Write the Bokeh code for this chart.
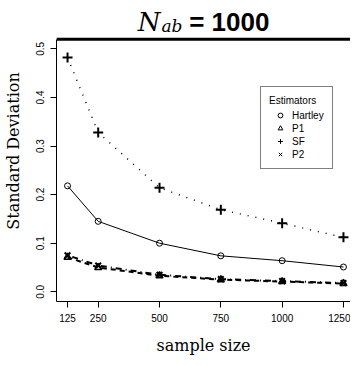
from bokeh.plotting import figure
from bokeh.models import (Range1d, FixedTicker, Legend, LegendItem, Label)
from bokeh.embed import file_html
from bokeh.resources import INLINE

# ---- data ----
sample_size = [125, 250, 500, 750, 1000, 1250]
hartley = [0.218, 0.145, 0.100, 0.074, 0.064, 0.051]
p1 = [0.071, 0.050, 0.033, 0.025, 0.021, 0.017]
sf = [0.482, 0.328, 0.214, 0.169, 0.141, 0.112]
p2 = [0.075, 0.054, 0.035, 0.026, 0.022, 0.018]
x_ticks = [125, 250, 500, 750, 1000, 1250]
y_ticks = [0.0, 0.1, 0.2, 0.3, 0.4, 0.5]
y_tick_labels = ["0.0", "0.1", "0.2", "0.3", "0.4", "0.5"]

W, H = 350, 357
BL, BB = 53, 53
FW = W - BL          # frame width (px)
FH = H - BB          # frame height (px), frame reaches the top of the canvas
PX_PER_Y = 490.7     # vertical scale (px per unit)
X0, X1 = 80.0, 1278.7
Y0, YBOX = -0.02, 0.52          # plotting box (bottom, top)
Y1 = Y0 + FH / PX_PER_Y         # frame top (room for the title)
NAN = float("nan")

p = figure(width=W, height=H, output_backend="svg", toolbar_location=None,
           x_range=Range1d(X0, X1), y_range=Range1d(Y0, Y1),
           min_border_left=BL, min_border_right=0, min_border_top=0,
           min_border_bottom=BB)
p.outline_line_color = None
p.xgrid.visible = False
p.ygrid.visible = False
p.background_fill_color = "white"
p.border_fill_color = "white"

for ax in (p.xaxis[0], p.yaxis[0]):
    ax.axis_line_color = "black"
    ax.axis_line_width = 1
    ax.major_tick_line_color = "black"
    ax.major_tick_in = 0
    ax.major_tick_out = 6
    ax.minor_tick_line_color = None
    ax.major_label_text_font = "Liberation Sans"
    ax.major_label_text_font_size = "10px"
    ax.major_label_text_color = "black"
    ax.axis_label_text_font = "DejaVu Serif"
    ax.axis_label_text_font_size = "16px"
    ax.axis_label_text_font_style = "normal"
    ax.axis_label_text_color = "black"

p.xaxis[0].ticker = FixedTicker(ticks=x_ticks)
p.xaxis[0].major_label_standoff = 6
p.xaxis[0].axis_label = "sample size"
p.xaxis[0].axis_label_standoff = 11

p.yaxis[0].ticker = FixedTicker(ticks=y_ticks)
p.yaxis[0].bounds = (Y0, YBOX)
p.yaxis[0].major_label_overrides = {t: l for t, l in zip(y_ticks, y_tick_labels)}
p.yaxis[0].major_label_orientation = "vertical"
p.yaxis[0].major_label_standoff = 6
p.yaxis[0].axis_label = "Standard Deviation"
p.yaxis[0].axis_label_standoff = 11

# top edge of the plotting box
p.segment(x0=[X0], y0=[YBOX], x1=[X1], y1=[YBOX], line_color="black", line_width=3)

# series
p.line(sample_size, hartley, line_color="black", line_width=1)
p.scatter(sample_size, hartley, marker="circle", size=6, fill_color=None,
          line_color="black", line_width=1)
p.line(sample_size, sf, line_color="black", line_width=1.5, line_dash="1 7")
p.scatter(sample_size, sf, marker="cross", size=10, line_color="black", line_width=2)
p.line(sample_size, p1, line_color="black", line_width=2, line_dash="5 4")
p.scatter(sample_size, p1, marker="triangle", size=7, fill_color=None,
          line_color="black", line_width=1.5)
p.line(sample_size, p2, line_color="black", line_width=2, line_dash="1 4 6 4")
p.scatter(sample_size, p2, marker="x", size=8, line_color="black", line_width=2)

# legend keys (thin symbols, as in the legend box); NaN position -> not drawn in the plot
k_h = p.scatter([NAN], [NAN], marker="circle", size=6, fill_color=None, line_color="black", line_width=1)
k_p1 = p.scatter([NAN], [NAN], marker="triangle", size=7, fill_color=None, line_color="black", line_width=1)
k_sf = p.scatter([NAN], [NAN], marker="cross", size=9, line_color="black", line_width=1)
k_p2 = p.scatter([NAN], [NAN], marker="x", size=7, line_color="black", line_width=1)

legend = Legend(items=[LegendItem(label="Hartley", renderers=[k_h]),
                       LegendItem(label="P1", renderers=[k_p1]),
                       LegendItem(label="SF", renderers=[k_sf]),
                       LegendItem(label="P2", renderers=[k_p2])],
                location=(204, 132), title="Estimators",
                title_text_font="Liberation Sans", title_text_font_size="10px",
                title_text_font_style="normal", title_text_color="black", title_standoff=3,
                label_text_font="Liberation Sans", label_text_font_size="10px",
                label_text_color="black",
                glyph_width=22, glyph_height=12, label_height=12, label_standoff=1,
                spacing=1, padding=8, margin=0,
                border_line_color="black", border_line_width=1,
                background_fill_color="white", background_fill_alpha=1)
p.add_layout(legend, "center")


def px_x(px):
    return X0 + (px - 8 - BL) * (X1 - X0) / FW


def px_y(py):
    return Y1 - (py - 8) * (Y1 - Y0) / FH


p.add_layout(Label(x=px_x(143), y=px_y(30), text="N", text_font="DejaVu Serif",
                   text_font_style="italic", text_font_size="26px",
                   text_baseline="alphabetic", text_align="left", text_color="black"))
p.add_layout(Label(x=px_x(167), y=px_y(34), text="ab", text_font="DejaVu Serif",
                   text_font_style="italic", text_font_size="17px",
                   text_baseline="alphabetic", text_align="left", text_color="black"))
p.add_layout(Label(x=px_x(195), y=px_y(30), text="= 1000", text_font="Liberation Sans",
                   text_font_style="bold", text_font_size="26px",
                   text_baseline="alphabetic", text_align="left", text_color="black"))

open("out.html", "w").write(file_html(p, INLINE))
